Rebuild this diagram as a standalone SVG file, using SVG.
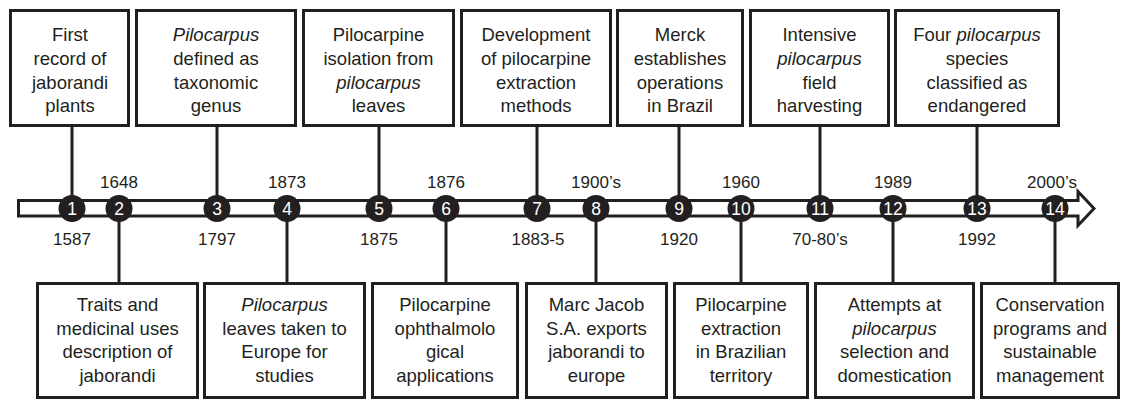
<svg xmlns="http://www.w3.org/2000/svg" width="1121" height="401" viewBox="0 0 1121 401">
<style>
.box{fill:#fff;stroke:#231f20;stroke-width:3}
.t{font-family:"Liberation Sans",Arial,sans-serif;font-size:18.5px;fill:#231f20;text-anchor:middle}
.d{font-family:"Liberation Sans",Arial,sans-serif;font-size:17px;fill:#231f20;text-anchor:middle}
.n{font-family:"Liberation Sans",Arial,sans-serif;font-size:17.5px;fill:#fff;text-anchor:middle}
.c{fill:#231f20}
.ln{stroke:#231f20;stroke-width:3;fill:none}
.i{font-style:italic}
</style>
<rect width="1121" height="401" fill="#fff"/>
<g id="connectors">
<line class="ln" x1="72" y1="127" x2="72" y2="200"/>
<line class="ln" x1="217" y1="127" x2="217" y2="200"/>
<line class="ln" x1="379" y1="127" x2="379" y2="200"/>
<line class="ln" x1="537" y1="127" x2="537" y2="200"/>
<line class="ln" x1="679" y1="127" x2="679" y2="200"/>
<line class="ln" x1="820" y1="127" x2="820" y2="200"/>
<line class="ln" x1="977" y1="127" x2="977" y2="200"/>
<line class="ln" x1="119" y1="216" x2="119" y2="283"/>
<line class="ln" x1="287" y1="216" x2="287" y2="283"/>
<line class="ln" x1="446" y1="216" x2="446" y2="283"/>
<line class="ln" x1="596" y1="216" x2="596" y2="283"/>
<line class="ln" x1="741" y1="216" x2="741" y2="283"/>
<line class="ln" x1="893" y1="216" x2="893" y2="283"/>
<line class="ln" x1="1055" y1="216" x2="1055" y2="283"/>
</g>
<g id="timeline">
<polygon points="18.5,200.5 1078,200.5 1078,191.5 1094,208.5 1078,225.5 1078,216 18.5,216" fill="#fff" stroke="#231f20" stroke-width="3" stroke-linejoin="miter"/>
</g>
<g id="markers">
<circle class="c" cx="72" cy="208.5" r="13.5"/><text class="n" x="72" y="214.5">1</text>
<circle class="c" cx="119" cy="208.5" r="13.5"/><text class="n" x="119" y="214.5">2</text>
<circle class="c" cx="217" cy="208.5" r="13.5"/><text class="n" x="217" y="214.5">3</text>
<circle class="c" cx="287" cy="208.5" r="13.5"/><text class="n" x="287" y="214.5">4</text>
<circle class="c" cx="379" cy="208.5" r="13.5"/><text class="n" x="379" y="214.5">5</text>
<circle class="c" cx="446" cy="208.5" r="13.5"/><text class="n" x="446" y="214.5">6</text>
<circle class="c" cx="537" cy="208.5" r="13.5"/><text class="n" x="537" y="214.5">7</text>
<circle class="c" cx="596" cy="208.5" r="13.5"/><text class="n" x="596" y="214.5">8</text>
<circle class="c" cx="679" cy="208.5" r="13.5"/><text class="n" x="679" y="214.5">9</text>
<circle class="c" cx="741" cy="208.5" r="13.5"/><text class="n" x="741" y="214.5">10</text>
<circle class="c" cx="820" cy="208.5" r="13.5"/><text class="n" x="820" y="214.5">11</text>
<circle class="c" cx="893" cy="208.5" r="13.5"/><text class="n" x="893" y="214.5">12</text>
<circle class="c" cx="977" cy="208.5" r="13.5"/><text class="n" x="977" y="214.5">13</text>
<circle class="c" cx="1055" cy="208.5" r="13.5"/><text class="n" x="1055" y="214.5">14</text>
</g>
<g id="dates">
<text class="d" x="119" y="188">1648</text>
<text class="d" x="287" y="188">1873</text>
<text class="d" x="446" y="188">1876</text>
<text class="d" x="596" y="188">1900’s</text>
<text class="d" x="741" y="188">1960</text>
<text class="d" x="893" y="188">1989</text>
<text class="d" x="1052" y="188">2000’s</text>
<text class="d" x="72" y="245">1587</text>
<text class="d" x="217" y="245">1797</text>
<text class="d" x="379" y="245">1875</text>
<text class="d" x="538" y="245">1883-5</text>
<text class="d" x="679" y="245">1920</text>
<text class="d" x="820" y="245">70-80’s</text>
<text class="d" x="977" y="245">1992</text>
</g>
<g id="e1"><rect class="box" x="10.5" y="10.5" width="118" height="115"/>
<text class="t" x="70" y="41">First</text><text class="t" x="70" y="65">record of</text><text class="t" x="70" y="89">jaborandi</text><text class="t" x="70" y="112">plants</text></g>
<g id="e3"><rect class="box" x="136.5" y="10.5" width="159" height="115"/>
<text class="t i" x="216" y="41">Pilocarpus</text><text class="t" x="216" y="65">defined as</text><text class="t" x="216" y="89">taxonomic</text><text class="t" x="216" y="112">genus</text></g>
<g id="e5"><rect class="box" x="303.5" y="10.5" width="150" height="115"/>
<text class="t" x="378.5" y="41">Pilocarpine</text><text class="t" x="378.5" y="65">isolation from</text><text class="t i" x="378.5" y="89">pilocarpus</text><text class="t" x="378.5" y="112">leaves</text></g>
<g id="e7"><rect class="box" x="461.5" y="10.5" width="149" height="115"/>
<text class="t" x="536" y="41">Development</text><text class="t" x="536" y="65">of pilocarpine</text><text class="t" x="536" y="89">extraction</text><text class="t" x="536" y="112">methods</text></g>
<g id="e9"><rect class="box" x="617.5" y="10.5" width="125" height="115"/>
<text class="t" x="680" y="41">Merck</text><text class="t" x="680" y="65">establishes</text><text class="t" x="680" y="89">operations</text><text class="t" x="680" y="112">in Brazil</text></g>
<g id="e11"><rect class="box" x="750.5" y="10.5" width="138" height="115"/>
<text class="t" x="819.5" y="41">Intensive</text><text class="t i" x="819.5" y="65">pilocarpus</text><text class="t" x="819.5" y="89">field</text><text class="t" x="819.5" y="112">harvesting</text></g>
<g id="e13"><rect class="box" x="895.5" y="10.5" width="163" height="115"/>
<text class="t" x="977" y="41">Four <tspan class="i">pilocarpus</tspan></text><text class="t" x="977" y="65">species</text><text class="t" x="977" y="89">classified as</text><text class="t" x="977" y="112">endangered</text></g>
<g id="e2"><rect class="box" x="37.5" y="283.5" width="160" height="114"/>
<text class="t" x="117.5" y="311">Traits and</text><text class="t" x="117.5" y="335">medicinal uses</text><text class="t" x="117.5" y="358">description of</text><text class="t" x="117.5" y="382">jaborandi</text></g>
<g id="e4"><rect class="box" x="204.5" y="283.5" width="160" height="114"/>
<text class="t i" x="284.5" y="311">Pilocarpus</text><text class="t" x="284.5" y="335">leaves taken to</text><text class="t" x="284.5" y="358">Europe for</text><text class="t" x="284.5" y="382">studies</text></g>
<g id="e6"><rect class="box" x="372.5" y="283.5" width="145" height="114"/>
<text class="t" x="445" y="311">Pilocarpine</text><text class="t" x="445" y="335">ophthalmolo</text><text class="t" x="445" y="358">gical</text><text class="t" x="445" y="382">applications</text></g>
<g id="e8"><rect class="box" x="526.5" y="283.5" width="140" height="114"/>
<text class="t" x="596.5" y="311">Marc Jacob</text><text class="t" x="596.5" y="335">S.A. exports</text><text class="t" x="596.5" y="358">jaborandi to</text><text class="t" x="596.5" y="382">europe</text></g>
<g id="e10"><rect class="box" x="674.5" y="283.5" width="133" height="114"/>
<text class="t" x="741" y="311">Pilocarpine</text><text class="t" x="741" y="335">extraction</text><text class="t" x="741" y="358">in Brazilian</text><text class="t" x="741" y="382">territory</text></g>
<g id="e12"><rect class="box" x="815.5" y="283.5" width="158" height="114"/>
<text class="t" x="894.5" y="311">Attempts at</text><text class="t i" x="894.5" y="335">pilocarpus</text><text class="t" x="894.5" y="358">selection and</text><text class="t" x="894.5" y="382">domestication</text></g>
<g id="e14"><rect class="box" x="981.5" y="283.5" width="137" height="114"/>
<text class="t" x="1050" y="311">Conservation</text><text class="t" x="1050" y="335">programs and</text><text class="t" x="1050" y="358">sustainable</text><text class="t" x="1050" y="382">management</text></g>
</svg>
